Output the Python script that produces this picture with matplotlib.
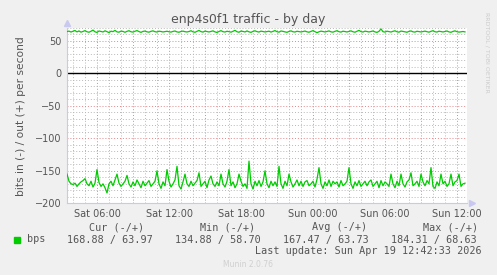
import numpy as np
import matplotlib
matplotlib.use("Agg")
import matplotlib.pyplot as plt

# 10-minute samples, Sat 03:30 .. Sun 12:40 (hours from Sat 00:00)
start_hour = 3.5
step_hour = 1 / 6

in_bps = [
    155, 166, 170, 171, 169, 174, 170, 167, 165, 162,
    170, 173, 166, 175, 169, 148, 168, 174, 170, 176,
    184, 170, 166, 173, 164, 155, 169, 174, 170, 166,
    157, 170, 175, 167, 173, 164, 170, 176, 166, 173,
    169, 165, 174, 170, 166, 150, 170, 177, 167, 173,
    148, 166, 175, 170, 164, 143, 173, 178, 167, 155,
    170, 174, 166, 173, 169, 165, 153, 174, 170, 166,
    176, 164, 158, 170, 174, 167, 173, 155, 170, 175,
    166, 148, 173, 167, 176, 170, 155, 166, 174, 170,
    177, 135, 170, 178, 166, 173, 165, 174, 167, 150,
    170, 176, 166, 173, 167, 174, 143, 170, 177, 166,
    173, 155, 167, 175, 170, 164, 173, 166, 174, 167,
    165, 173, 170, 166, 175, 163, 145, 170, 177, 167,
    173, 164, 174, 166, 170, 167, 175, 165, 173, 170,
    166, 145, 170, 177, 167, 173, 165, 174, 170, 166,
    173, 167, 164, 174, 170, 166, 176, 165, 173, 167,
    170, 174, 155, 170, 176, 166, 173, 155, 170, 175,
    167, 164, 153, 173, 170, 166, 174, 155, 167, 173,
    165, 170, 145, 174, 177, 167, 173, 155, 170, 166,
    174, 170, 155, 173, 167, 165, 155, 174, 170, 169,
]

out_bps = [
    64.5, 65.2, 63.8, 64.9, 66.1, 64.0, 65.5, 63.6, 64.8, 65.9,
    64.2, 63.5, 65.0, 66.8, 64.1, 63.2, 65.4, 64.6, 63.9, 65.7,
    64.3, 63.0, 65.1, 64.4, 66.3, 64.0, 63.6, 65.2, 64.7, 63.4,
    64.9, 65.8, 64.2, 63.7, 65.0, 66.0, 64.5, 63.3, 64.8, 65.3,
    64.1, 63.6, 64.9, 65.6, 64.3, 63.8, 65.1, 64.6, 63.9, 64.4,
    65.0, 64.2, 63.7, 64.8, 65.4, 64.0, 63.5, 64.7, 65.2, 64.3,
    63.9, 64.6, 65.8, 64.1, 63.4, 64.9, 66.2, 64.4, 63.7, 65.3,
    64.5, 63.9, 64.8, 65.6, 64.0, 63.2, 64.7, 65.9, 64.3, 63.8,
    65.0, 64.4, 63.6, 64.9, 66.4, 64.2, 63.5, 65.3, 64.7, 63.9,
    65.5, 64.1, 63.3, 64.8, 65.7, 64.4, 63.8, 65.2, 64.6, 63.9,
    64.5, 65.1, 63.7, 64.9, 66.0, 64.3, 63.6, 65.4, 64.8, 64.0,
    63.4, 64.7, 65.6, 64.2, 63.8, 65.0, 64.5, 63.9, 64.6, 65.3,
    64.1, 63.5, 64.8, 65.9, 64.4, 62.8, 64.2, 65.2, 64.6, 63.9,
    64.7, 65.5, 64.1, 63.6, 64.9, 65.8, 64.3, 63.7, 65.1, 64.5,
    63.9, 64.8, 65.6, 64.2, 63.5, 65.0, 66.3, 64.4, 63.8, 65.2,
    64.6, 63.9, 64.7, 65.4, 64.0, 63.3, 64.9, 68.6, 64.3, 63.7,
    65.1, 64.5, 63.8, 64.9, 65.7, 64.2, 63.6, 65.3, 64.7, 64.0,
    63.5, 64.8, 65.5, 64.1, 63.7, 65.0, 64.4, 63.9, 64.6, 65.2,
    64.3, 63.6, 64.9, 65.8, 64.2, 63.8, 65.1, 64.5, 63.9, 64.7,
    65.4, 64.0, 63.4, 64.8, 65.6, 64.3, 63.7, 64.2, 64.6, 64.0,
]

xtick_hours = [6, 12, 18, 24, 30, 36]
xtick_labels = ["Sat 06:00", "Sat 12:00", "Sat 18:00", "Sun 00:00", "Sun 06:00", "Sun 12:00"]
ytick_values = [-200, -150, -100, -50, 0, 50]

legend_cols = ["Cur (-/+)", "Min (-/+)", "Avg (-/+)", "Max (-/+)"]
legend_vals = ["168.88 / 63.97", "134.88 / 58.70", "167.47 / 63.73", "184.31 / 68.63"]

green = "#00CC00"
text_grey = "#555555"

hours = start_hour + np.arange(len(in_bps)) * step_hour

fig = plt.figure(figsize=(4.97, 2.75), dpi=100, facecolor="#F0F0F0")
W, H = 497, 275
ax = fig.add_axes([67 / W, 1 - 203.3 / H, 400 / W, 175.3 / H], facecolor="white")

ax.plot(hours, -np.array(in_bps), color=green, lw=0.9, zorder=3)
ax.plot(hours, out_bps, color=green, lw=0.9, zorder=3)
ax.axhline(0, color="black", lw=1.0, zorder=2)

ax.set_xlim(start_hour, start_hour + 400 / 12)
ax.set_ylim(-200, 70)

# grid: minor every hour / 10 units, major every 3 hours / 50 units
ax.set_xticks(np.arange(6, 37, 3))
ax.set_xticklabels([xtick_labels[xtick_hours.index(h)] if h in xtick_hours else "" for h in range(6, 37, 3)])
ax.set_xticks(np.arange(4, 37, 1), minor=True)
ax.set_yticks(ytick_values)
ax.set_yticks(np.arange(-190, 71, 10), minor=True)
ax.grid(which="minor", color="#B8B8B8", ls=(0, (1, 2)), lw=0.7)
ax.grid(which="major", color="#E08888", ls=(0, (1, 2)), lw=0.7)
ax.set_axisbelow(True)
ax.tick_params(which="both", length=0, labelsize=7, labelcolor=text_grey, pad=4)

for s in ["top", "right"]:
    ax.spines[s].set_visible(False)
for s in ["left", "bottom"]:
    ax.spines[s].set_color("#C8C8F0")
    ax.spines[s].set_linewidth(0.8)
ax.plot([0], [1.03], marker="^", color="#C8C8F0", ms=4, transform=ax.transAxes, clip_on=False)
ax.plot([1.013], [0], marker=">", color="#C8C8F0", ms=4, transform=ax.transAxes, clip_on=False)

ax.set_ylabel("bits in (-) / out (+) per second", fontsize=7.7, color=text_grey, labelpad=6)

fig.text(248 / W, 1 - 19 / H, "enp4s0f1 traffic - by day", ha="center", va="center",
         fontsize=9, color=text_grey)
fig.text(487 / W, 1 - 52 / H, "RRDTOOL / TOBI OETIKER", ha="center", va="center",
         rotation=270, fontsize=4.5, color="#CCCCCC")

mono = dict(family="DejaVu Sans Mono", fontsize=7.3, color=text_grey, va="center")
fig.patches.append(plt.Rectangle((14 / W, 1 - 243 / H), 6 / W, 6 / H, color=green,
                                 transform=fig.transFigure, figure=fig))
fig.text(27 / W, 1 - 239.5 / H, "bps", **mono)
head_x = [89, 200, 312, 423]
val_x = [67, 175, 283, 391]
for hx, vx, h, v in zip(head_x, val_x, legend_cols, legend_vals):
    fig.text(hx / W, 1 - 227.5 / H, h, **mono)
    fig.text(vx / W, 1 - 239.5 / H, v, **mono)
fig.text(482 / W, 1 - 251.5 / H, "Last update: Sun Apr 19 12:42:33 2026", ha="right", **mono)
fig.text(248 / W, 1 - 264.5 / H, "Munin 2.0.76", ha="center", va="center",
         fontsize=5.5, color="#D0D0D0")

fig.savefig("out.png", dpi=100, facecolor=fig.get_facecolor())
